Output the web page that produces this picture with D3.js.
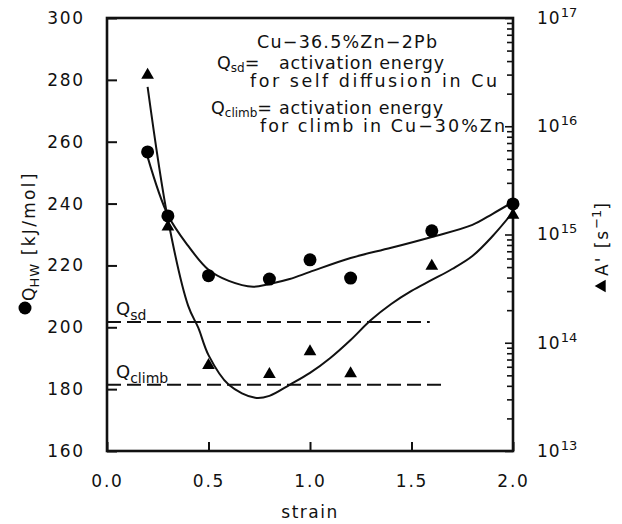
<!DOCTYPE html>
<html>
<head>
<meta charset="utf-8">
<script src="https://cdn.jsdelivr.net/npm/d3@7/dist/d3.min.js"></script>
<style>
  body { margin: 0; background: #fff; }
  svg text { font-family: "DejaVu Sans", "Liberation Sans", sans-serif; fill: #111; }
</style>
</head>
<body>
<svg id="chart" width="622" height="524"></svg>
<script>
// measured points
const strain = [0.2, 0.3, 0.5, 0.8, 1.0, 1.2, 1.6, 2.0];
const qHW = [256.7, 236, 216.7, 215.6, 221.8, 215.9, 231.2, 239.9]; // kJ/mol, circles
const aPrime = [2.97e16, 1.18e15, 6.2e13, 5.1e13, 8.3e13, 5.2e13, 5.1e14, 1.51e15]; // s^-1, triangles

// fitted curves
const fitQStrain = [0.2, 0.3, 0.4, 0.5, 0.6, 0.72, 0.8, 0.9, 1.0, 1.2, 1.4, 1.6, 1.8, 1.9, 2.0];
const fitQ = [255.1, 236.3, 226.3, 218.6, 215.0, 213.1, 214, 215.6, 217.9, 222.4, 225.7, 229.2, 233.1, 236.7, 240.5];
const fitAStrain = [0.2, 0.3, 0.4, 0.45, 0.5, 0.6, 0.73, 0.8, 0.9, 1.0, 1.1, 1.2, 1.3, 1.4, 1.5, 1.6, 1.7, 1.8, 1.9, 2.0];
const fitA = [2.31e16, 1.39e15, 2.19e14, 1.37e14, 7.69e13, 4.09e13, 3.10e13, 3.23e13, 4.09e13, 5.26e13,
  7.23e13, 1.06e14, 1.62e14, 2.28e14, 3.01e14, 3.80e14, 4.80e14, 6.33e14, 9.69e14, 1.61e15];

// reference levels
const refLabels = ["sd", "climb"];
const refValues = [201.7, 181.4];
const refEnds = [1.59, 1.665];

const xTicks = [0, 0.5, 1.0, 1.5, 2.0];
const yTicks = [160, 180, 200, 220, 240, 260, 280, 300];

const svg = d3.select("#chart");
const plotLeft = 107, plotRight = 513, plotTop = 18, plotBottom = 451;

const x = d3.scaleLinear().domain([0, 2]).range([plotLeft, plotRight]);
const y = d3.scaleLinear().domain([160, 300]).range([plotBottom, plotTop]);
const yR = d3.scaleLog().domain([1e13, 1e17]).range([plotBottom, plotTop]);

const isDecade = d => Math.abs(Math.log10(d) - Math.round(Math.log10(d))) < 1e-9;

// left axis
const gLeft = svg.append("g")
  .attr("transform", `translate(${plotLeft},0)`)
  .call(d3.axisLeft(y).tickValues(yTicks).tickSizeInner(-10).tickSizeOuter(0).tickPadding(22));
gLeft.select(".domain").remove();
gLeft.selectAll("line").attr("stroke", "#111").attr("stroke-width", 2);
gLeft.selectAll("text").attr("font-size", 17).attr("letter-spacing", 1.8).attr("fill", "#111");

// bottom axis
const gBottom = svg.append("g")
  .attr("transform", `translate(0,${plotBottom})`)
  .call(d3.axisBottom(x).tickValues(xTicks).tickFormat(d3.format(".1f")).tickSizeInner(-9).tickSizeOuter(0).tickPadding(24));
gBottom.select(".domain").remove();
gBottom.selectAll("line").attr("stroke", "#111").attr("stroke-width", 2);
gBottom.selectAll("text").attr("font-size", 17).attr("letter-spacing", 1.8).attr("fill", "#111");

// right axis, log
const gRight = svg.append("g")
  .attr("transform", `translate(${plotRight},0)`)
  .call(d3.axisRight(yR).tickSizeInner(-6).tickSizeOuter(0).tickPadding(24).tickFormat(() => ""));
gRight.select(".domain").remove();
gRight.selectAll("line").attr("stroke", "#111").attr("stroke-width", 1.6);
gRight.selectAll(".tick").filter(isDecade).select("line").attr("x2", -8);
gRight.selectAll(".tick").filter(isDecade)
  .select("text")
  .attr("font-size", 17)
  .attr("fill", "#111")
  .each(function (d) {
    const t = d3.select(this);
    t.append("tspan").attr("letter-spacing", 1).text("10");
    t.append("tspan").attr("font-size", 13).attr("dy", "-0.55em").text(Math.round(Math.log10(d)));
  });

// frame
svg.append("rect")
  .attr("x", plotLeft).attr("y", plotTop)
  .attr("width", plotRight - plotLeft).attr("height", plotBottom - plotTop)
  .attr("fill", "none").attr("stroke", "#111").attr("stroke-width", 2.6);

// reference dashed lines
refValues.forEach((v, i) => {
  svg.append("line")
    .attr("x1", x(0)).attr("x2", x(refEnds[i]))
    .attr("y1", y(v)).attr("y2", y(v))
    .attr("stroke", "#111").attr("stroke-width", 2)
    .attr("stroke-dasharray", "14,6");
  const lbl = svg.append("text")
    .attr("x", 116).attr("y", y(v) - 7)
    .attr("font-size", 18);
  lbl.append("tspan").text("Q");
  lbl.append("tspan").attr("font-size", 14).attr("dy", 5).text(refLabels[i]);
});

// fitted curves
const lineQ = d3.line().x((d, i) => x(fitQStrain[i])).y(d => y(d)).curve(d3.curveCatmullRom);
const lineA = d3.line().x((d, i) => x(fitAStrain[i])).y(d => yR(d)).curve(d3.curveCatmullRom);
svg.append("path").attr("d", lineQ(fitQ)).attr("fill", "none").attr("stroke", "#111").attr("stroke-width", 2);
svg.append("path").attr("d", lineA(fitA)).attr("fill", "none").attr("stroke", "#111").attr("stroke-width", 2);

// markers
const tri = d3.symbol().type(d3.symbolTriangle).size(70);
svg.append("g").selectAll("path")
  .data(aPrime)
  .enter()
  .append("path")
  .attr("d", tri)
  .attr("transform", (d, i) => `translate(${x(strain[i])},${yR(d)})`)
  .attr("fill", "#000");
svg.append("g").selectAll("circle")
  .data(qHW)
  .enter()
  .append("circle")
  .attr("cx", (d, i) => x(strain[i]))
  .attr("cy", d => y(d))
  .attr("r", 6.5)
  .attr("fill", "#000");

// annotation text
function addText(str, xs, ys, len) {
  svg.append("text").attr("x", xs).attr("y", ys).attr("font-size", 17.5)
    .attr("textLength", len).attr("lengthAdjust", "spacing").text(str);
}
addText("Cu\u221236.5%Zn\u22122Pb", 257, 48, 180);

const q1 = svg.append("text").attr("x", 217).attr("y", 69).attr("font-size", 17.5);
q1.append("tspan").text("Q");
q1.append("tspan").attr("font-size", 12).attr("dy", 3).text("sd");
q1.append("tspan").attr("dy", -3).text("=");
addText("activation energy", 279, 69, 165);
addText("for self diffusion in Cu", 250, 87, 247);

const q2 = svg.append("text").attr("x", 211).attr("y", 114).attr("font-size", 17.5);
q2.append("tspan").text("Q");
q2.append("tspan").attr("font-size", 12).attr("dy", 3).text("climb");
q2.append("tspan").attr("dy", -3).text("=");
addText("activation energy", 279, 114, 164);
addText("for climb in Cu\u221230%Zn", 260, 132, 245);

// axis titles
svg.append("text").attr("x", x(1)).attr("y", 518).attr("text-anchor", "middle")
  .attr("font-size", 17).attr("letter-spacing", 1.5).text("strain");

svg.append("circle").attr("cx", 25).attr("cy", 308).attr("r", 6.5).attr("fill", "#000");
const yl = svg.append("text").attr("transform", "translate(35,301) rotate(-90)").attr("font-size", 17);
yl.append("tspan").text("Q");
yl.append("tspan").attr("font-size", 13).attr("dy", 4).attr("letter-spacing", 1).text("HW");
yl.append("tspan").attr("dy", -4).attr("letter-spacing", 2.3).text(" [kJ/mol]");

svg.append("path").attr("d", tri).attr("fill", "#000")
  .attr("transform", "translate(602,286) rotate(-90)");
const yr = svg.append("text").attr("transform", "translate(608,276) rotate(-90)").attr("font-size", 17);
yr.append("tspan").attr("letter-spacing", 2).text("A' [s");
yr.append("tspan").attr("font-size", 13).attr("dy", "-0.55em").text("\u22121");
yr.append("tspan").attr("dy", "0.42em").text("]");
</script>
</body>
</html>
